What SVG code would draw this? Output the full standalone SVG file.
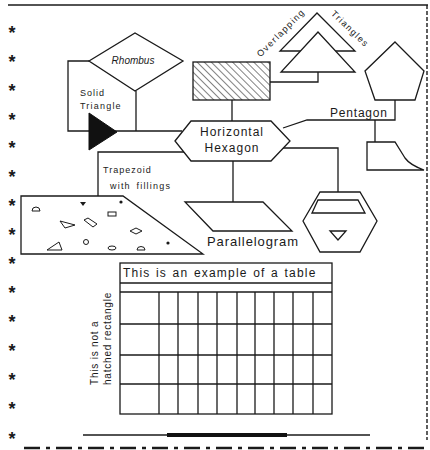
<svg xmlns="http://www.w3.org/2000/svg" width="430" height="450" viewBox="0 0 430 450">
<style>
.s{fill:none;stroke:#1a1a1a;stroke-width:1.3;stroke-linejoin:miter}
.w{fill:#fff;stroke:#1a1a1a;stroke-width:1.3}
.t{font-family:"Liberation Sans",Arial,sans-serif;fill:#1a1a1a}
.star{font-family:"Liberation Sans",Arial,sans-serif;font-weight:bold;font-size:18px;fill:#1a1a1a;text-anchor:middle}
.f{fill:none;stroke:#1a1a1a;stroke-width:1}
</style>
<defs>
<pattern id="hatch" width="5" height="5" patternUnits="userSpaceOnUse" patternTransform="rotate(-45)">
<line x1="0" y1="0" x2="0" y2="5" stroke="#1a1a1a" stroke-width="1.1"/>
</pattern>
</defs>
<rect width="430" height="450" fill="#fff"/>
<g id="frame">
<line x1="8" y1="5" x2="428" y2="5" stroke="#1a1a1a" stroke-width="1.5"/>
<line x1="427" y1="5" x2="427" y2="440" stroke="#1a1a1a" stroke-width="1.4" stroke-dasharray="4 2"/>
<line x1="24" y1="448" x2="430" y2="448" stroke="#1a1a1a" stroke-width="2.5" stroke-dasharray="16 6 4 6"/>
</g>
<g id="stars">
<text class="star" x="12" y="39">*</text>
<text class="star" x="12" y="68">*</text>
<text class="star" x="12" y="97">*</text>
<text class="star" x="12" y="126">*</text>
<text class="star" x="12" y="154">*</text>
<text class="star" x="12" y="183">*</text>
<text class="star" x="12" y="212">*</text>
<text class="star" x="12" y="241">*</text>
<text class="star" x="12" y="270">*</text>
<text class="star" x="12" y="299">*</text>
<text class="star" x="12" y="328">*</text>
<text class="star" x="12" y="357">*</text>
<text class="star" x="12" y="386">*</text>
<text class="star" x="12" y="415">*</text>
<text class="star" x="12" y="445">*</text>
</g>
<g id="connectors" class="s">
<polyline points="89,61 68,61 68,131 182,131"/>
<line x1="136" y1="91" x2="136" y2="131"/>
<line x1="232" y1="100" x2="232" y2="121"/>
<polyline points="318,72 318,82 270,82"/>
<polyline points="283,128 307,120 395,120 395,100"/>
<line x1="375" y1="120" x2="375" y2="142"/>
<polyline points="283,148 338,148 338,192"/>
<line x1="233" y1="161" x2="233" y2="202"/>
<polyline points="98,196 98,152 185,152"/>
</g>
<g id="rhombus">
<polygon class="w" points="89,61 135,33 183,61 135,91"/>
<text class="t" x="133" y="64" font-size="10" font-style="italic" text-anchor="middle">Rhombus</text>
</g>
<g id="solid-triangle">
<polygon points="89,113 117,132 89,150" fill="#111" stroke="#111" stroke-width="1"/>
<text class="t" x="80" y="96" font-size="9" letter-spacing="1">Solid</text>
<text class="t" x="80" y="109" font-size="9" letter-spacing="1.2">Triangle</text>
</g>
<g id="hatched-rect">
<rect x="193" y="62" width="77" height="38" fill="#fff"/>
<rect x="193" y="62" width="77" height="38" fill="url(#hatch)" stroke="#1a1a1a" stroke-width="1.3"/>
</g>
<g id="overlapping-triangles">
<polygon class="w" points="317,13 280,51 355,51"/>
<polygon class="w" points="318,32 281,72 355,72"/>
<text class="t" x="283" y="35" font-size="9" letter-spacing="1.4" text-anchor="middle" transform="rotate(-45 283 35)">Overlapping</text>
<text class="t" x="348" y="31" font-size="9" letter-spacing="1.3" text-anchor="middle" transform="rotate(44 348 31)">Triangles</text>
</g>
<g id="pentagon">
<polygon class="w" points="395,42 424,71 415,100 375,100 365,71"/>
<text class="t" x="330" y="117" font-size="12" letter-spacing="0.8">Pentagon</text>
</g>
<g id="hexagon">
<polygon class="w" points="175,141 191,121 271,121 290,141 271,161 191,161"/>
<text class="t" x="232" y="136" font-size="12" letter-spacing="1" text-anchor="middle">Horizontal</text>
<text class="t" x="232" y="152" font-size="12" letter-spacing="1" text-anchor="middle">Hexagon</text>
</g>
<g id="small-shape">
<path class="w" d="M367,142 H395 L405,158 Q410,165 424,170 H367 Z"/>
</g>
<g id="hexagon-shapes">
<polygon class="w" points="303,221 320,192 360,192 377,221 360,252 320,252"/>
<polygon class="s" points="318,200 358,200 365,213 312,213"/>
<polygon class="s" points="330,231 346,231 338,240"/>
</g>
<g id="parallelogram">
<polygon class="w" points="185,202 263,202 292,231 213,231"/>
<text class="t" x="207" y="246" font-size="13" letter-spacing="0.9">Parallelogram</text>
</g>
<g id="trapezoid">
<polygon class="w" points="21,196 123,196 203,254 21,254"/>
<text class="t" x="103" y="173" font-size="9" letter-spacing="1">Trapezoid</text>
<text class="t" x="110" y="189" font-size="9" letter-spacing="1.2" word-spacing="2">with fillings</text>
<path class="f" d="M32,211 A4,4 0 0 1 40,211 Z"/>
<polygon points="80,202 86,202 83,206" fill="#1a1a1a"/>
<circle cx="121" cy="202" r="1.6" fill="#1a1a1a"/>
<rect class="f" x="108" y="212" width="8" height="4"/>
<polygon class="f" points="60,221 75,225 65,228"/>
<polygon class="f" points="84,220 88,218 97,224 93,227"/>
<polygon class="f" points="130,231 136,228 142,231 136,234"/>
<polygon class="f" points="47,250 62,250 59,242"/>
<circle class="f" cx="86" cy="242" r="2.5"/>
<ellipse class="f" cx="112" cy="248" rx="4" ry="2"/>
<path class="f" d="M137,250 A4,3.5 0 0 1 145,250 Z"/>
<circle cx="168" cy="243" r="1.6" fill="#1a1a1a"/>
</g>
<g id="table">
<rect x="120" y="263" width="212" height="151" class="w"/>
<text class="t" x="123" y="277" font-size="12" letter-spacing="1.2" word-spacing="1">This is an example of a table</text>
<g class="s">
<line x1="120" y1="283" x2="332" y2="283"/>
<line x1="120" y1="292" x2="332" y2="292"/>
<line x1="120" y1="324" x2="332" y2="324"/>
<line x1="120" y1="355" x2="332" y2="355"/>
<line x1="120" y1="384" x2="332" y2="384"/>
<line x1="159" y1="292" x2="159" y2="414"/>
<line x1="178" y1="292" x2="178" y2="414"/>
<line x1="198" y1="292" x2="198" y2="414"/>
<line x1="217" y1="292" x2="217" y2="414"/>
<line x1="237" y1="292" x2="237" y2="414"/>
<line x1="255" y1="292" x2="255" y2="414"/>
<line x1="274" y1="292" x2="274" y2="414"/>
<line x1="293" y1="292" x2="293" y2="414"/>
<line x1="313" y1="292" x2="313" y2="414"/>
</g>
</g>
<g id="not-hatched-label">
<text class="t" x="98" y="385" font-size="10" letter-spacing="0.8" transform="rotate(-90 98 385)">This is not a</text>
<text class="t" x="111" y="385" font-size="10" letter-spacing="0.8" transform="rotate(-90 111 385)">hatched rectangle</text>
</g>
<g id="bottom-line">
<line x1="83" y1="435" x2="370" y2="435" stroke="#1a1a1a" stroke-width="1.3"/>
<line x1="167" y1="435" x2="287" y2="435" stroke="#111" stroke-width="4"/>
</g>
</svg>
